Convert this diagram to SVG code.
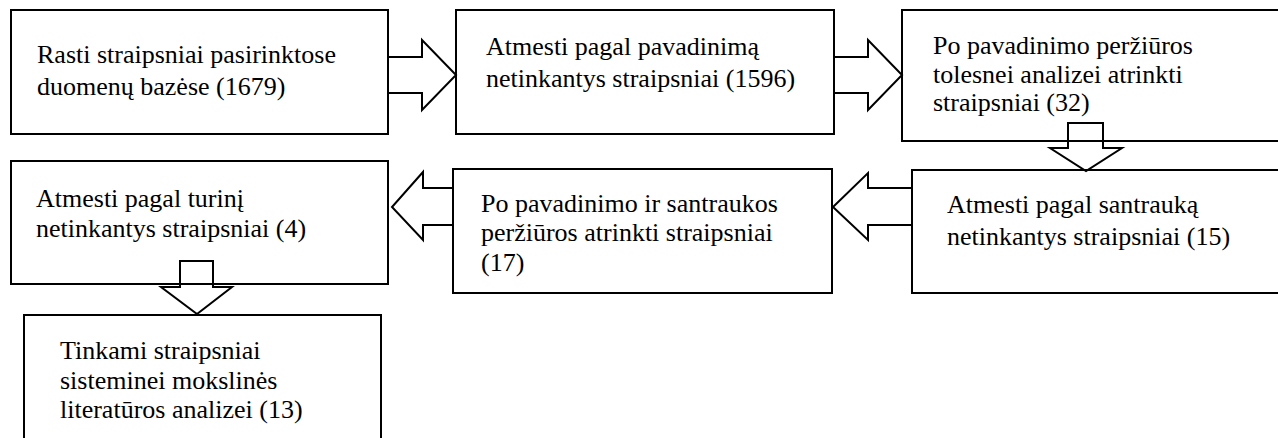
<svg xmlns="http://www.w3.org/2000/svg" width="1278" height="438" viewBox="0 0 1278 438">
<rect width="1278" height="438" fill="#ffffff"/>
<g fill="#ffffff" stroke="#000000" stroke-width="2">
<rect id="n1" x="11" y="10" width="377" height="124"/>
<rect id="n2" x="456" y="10" width="378" height="124"/>
<rect id="n3" x="902" y="10" width="400" height="131"/>
<rect id="n4" x="912" y="170" width="400" height="123"/>
<rect id="n5" x="453" y="169" width="379" height="124"/>
<rect id="n6" x="11" y="161" width="377" height="123"/>
<rect id="n7" x="24" y="315" width="357" height="140"/>
</g>
<g fill="#000000" font-family="Times New Roman" font-size="26">
<g id="t1"><text x="37" y="63">Rasti straipsniai pasirinktose</text><text x="37" y="95">duomenų bazėse (1679)</text></g>
<g id="t2"><text x="486" y="55">Atmesti pagal pavadinimą</text><text x="486" y="87">netinkantys straipsniai (1596)</text></g>
<g id="t3"><text x="933" y="54">Po pavadinimo peržiūros</text><text x="933" y="83">tolesnei analizei atrinkti</text><text x="933" y="111">straipsniai (32)</text></g>
<g id="t4"><text x="947" y="213">Atmesti pagal santrauką</text><text x="947" y="245">netinkantys straipsniai (15)</text></g>
<g id="t5"><text x="481" y="212">Po pavadinimo ir santraukos</text><text x="481" y="241">peržiūros atrinkti straipsniai</text><text x="481" y="271">(17)</text></g>
<g id="t6"><text x="36" y="207">Atmesti pagal turinį</text><text x="36" y="237">netinkantys straipsniai (4)</text></g>
<g id="t7"><text x="60" y="359">Tinkami straipsniai</text><text x="60" y="389">sisteminei mokslinės</text><text x="60" y="418">literatūros analizei (13)</text></g>
</g>
<g id="connectors" fill="none" stroke="#000000" stroke-width="2">
<path d="M388,57 H422 V40 L456,75 L422,110 V93 H388"/>
<path d="M834,57 H868 V40 L902,75 L868,110 V93 H834"/>
<path d="M1068,148 V123 H1103 V148 H1122 L1086,171 L1050,148 Z"/>
<path d="M912,188 H868 V173 L833,207 L868,240 V225 H912"/>
<path d="M453,188 H423 V172 L392,207 L423,240 V225 H453"/>
<path d="M180,287 V261 H213 V287 H232 L197,314 L161,287 Z"/>
</g>
</svg>
